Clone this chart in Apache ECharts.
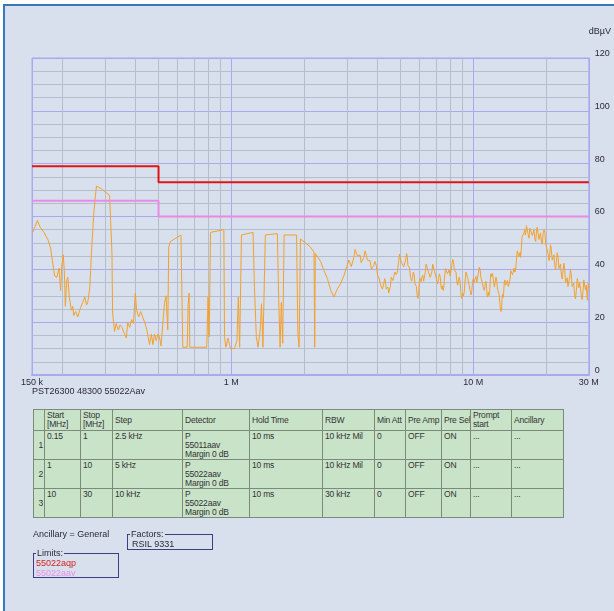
<!DOCTYPE html>
<html><head><meta charset="utf-8">
<script src="https://cdn.jsdelivr.net/npm/echarts@6/dist/echarts.min.js"></script>
<style>
html,body{margin:0;padding:0;background:#fff;}
#page{position:absolute;left:0;top:0;width:614px;height:611px;background:#fff;overflow:hidden;font-family:"Liberation Sans",Arial,sans-serif;color:#2a2a3a;}
#frame{position:absolute;left:3px;top:4px;width:611px;height:607px;background:#d7e0ec;border-left:2px solid #3579b9;border-top:2px solid #3579b9;box-sizing:border-box;}
#chart{position:absolute;left:0;top:0;width:614px;height:611px;}
#caption{position:absolute;left:32px;top:386px;font-size:9px;}
#tbl{position:absolute;left:33px;top:409px;border-collapse:collapse;table-layout:fixed;background:#c9e3c9;font-size:8.5px;letter-spacing:-0.2px;color:#333;border-top:1px solid #333;border-left:1px solid #333;border-right:1px solid #555;border-bottom:1px solid #555;}
#tbl td{border:1px solid #7c8a7c;padding:1px 1px 0 2px;vertical-align:top;line-height:9px;overflow:hidden;white-space:nowrap;}
#tbl tr.h td{vertical-align:middle;height:20px;padding-top:0;}
#tbl tr.r td{height:27px;}
#tbl td.n{text-align:right;vertical-align:middle;padding:0 1px;}
.box{position:absolute;border:1px solid #3a3f86;font-size:9px;}
.box .lg{position:absolute;left:2px;top:-6px;background:#d7e0ec;padding:0 1px;line-height:10px;}
</style></head>
<body><div id="page"><div id="frame"></div><div id="chart"></div>
<div id="caption"></div>
<table id="tbl"></table>
<div id="anc" style="position:absolute;left:33px;top:529px;font-size:9px;"></div>
<div class="box" id="factors" style="left:127px;top:534px;width:84px;height:14px;"><span class="lg">Factors:</span><div id="facText" style="position:absolute;left:4px;top:4px;"></div></div>
<div class="box" id="limits" style="left:33px;top:553px;width:84px;height:23px;"><span class="lg">Limits:</span><div id="limText" style="position:absolute;left:2px;top:4px;line-height:10px;"></div></div>
</div>
<script>
// ---------- data: [frequency MHz, level dBµV] ----------
const traceLowBand = [
[0.151,54],[0.158,58.5],[0.162,56],[0.168,54],[0.171,53.5],[0.175,51],[0.179,48],[0.182,43.5],[0.186,37.5],[0.190,37],
[0.194,40.5],[0.197,32],[0.199,41],[0.202,45.5],[0.204,39.5],[0.206,26],[0.209,36],[0.211,37],[0.214,29.5],[0.218,24.5],
[0.221,26],[0.223,22.5],[0.227,24],[0.232,22],[0.236,24.5],[0.243,27.5],[0.248,29.5],[0.252,26.5],[0.255,27.5],[0.260,33],
[0.264,46],[0.270,61],[0.274,67.5],[0.277,71.5],[0.290,70.5],[0.304,69],[0.314,68],[0.317,58.5],[0.321,46],[0.323,23.5],
[0.329,16.5],[0.334,19.5],[0.341,17],[0.347,19],[0.353,18],[0.362,15.5],[0.368,14],[0.373,20],[0.380,18],[0.387,21],
[0.394,19.5],[0.401,31],[0.406,24.5],[0.414,22],[0.422,24],[0.430,23.5],[0.438,20],[0.445,18],[0.452,15],[0.459,11.5],
[0.467,15.5],[0.474,11.5],[0.481,15.5],[0.489,13],[0.497,15.5],[0.504,14.5],[0.512,11],[0.520,11],[0.529,27],[0.537,30],
[0.546,17],[0.551,48.5],[0.560,50.5],[0.582,51.5],[0.619,53],[0.624,33],[0.630,10.5],[0.657,10.5],[0.663,27],[0.669,31],
[0.673,10.5],[0.791,10.5],[0.801,29.5],[0.810,14.5],[0.820,54],[0.825,54.5],[0.931,55],[0.937,14.5],[0.949,10.5],[0.968,14],
[0.991,10],[1.029,10],[1.055,13],[1.068,29.5],[1.082,10.5],[1.101,53],[1.111,53.5],[1.229,54],[1.246,33],[1.268,14.5],
[1.288,10.5],[1.316,17],[1.332,27],[1.350,10.5],[1.382,53],[1.404,53.5],[1.549,53.5],[1.569,28.5],[1.590,10.5],[1.608,27.5],
[1.630,12],[1.652,53],[1.668,53],[1.860,53],[1.883,15.5],[1.906,10.5],[1.930,51.5],[1.960,51],[2.118,48.5],[2.196,46.5],
[2.210,10.5],[2.222,46],[2.337,43],[2.414,39.5],[2.494,36.5],[2.575,32],[2.654,29.5],[2.738,32.5],[2.823,34.5],[2.917,37.5]
];
const traceHighBand = [
[3.059,43.5],[3.095,43.8],[3.13,41],[3.17,41.3],[3.207,44.5],[3.245,47.5],[3.28,47.5],[3.32,45],[3.363,45.5],[3.40,45.5],
[3.44,42.5],[3.48,42],[3.526,44.5],[3.57,47],[3.61,46.5],[3.65,43.5],[3.697,43.5],[3.74,43.3],[3.79,40],[3.83,39.3],
[3.877,41.5],[3.92,43],[3.97,41.5],[4.02,37.8],[4.064,37],[4.11,36.8],[4.16,33.5],[4.21,32.5],[4.262,34.5],[4.30,36.5],
[4.33,35.5],[4.365,32.5],[4.40,32.5],[4.435,33.3],[4.47,31],[4.505,30.8],[4.54,33.5],[4.575,37],[4.61,37.5],[4.65,35.8],
[4.685,37],[4.74,39],[4.80,38],[4.855,39],[4.913,43],[4.95,45.8],[4.99,45.5],[5.03,42.8],[5.07,43],[5.115,43.5],
[5.16,41],[5.21,41],[5.26,44],[5.295,46],[5.33,45],[5.365,41.5],[5.40,41],[5.45,40.5],[5.50,37],[5.555,35.5],
[5.61,37],[5.65,39],[5.69,38],[5.735,34.5],[5.78,34],[5.82,33.5],[5.86,30],[5.90,29],[5.94,31],[5.985,35.3],
[6.03,36.5],[6.08,35.3],[6.13,37],[6.18,37.8],[6.23,35.5],[6.28,35.8],[6.33,39],[6.38,42],[6.43,42],[6.48,39.8],
[6.53,40.5],[6.58,40.3],[6.63,37],[6.685,36.5],[6.74,39],[6.795,42],[6.85,42],[6.905,39.3],[6.96,39.5],[7.015,39],
[7.07,35.5],[7.125,34.5],[7.18,36.5],[7.24,38.3],[7.30,37],[7.355,33.3],[7.41,32.5],[7.455,33.8],[7.50,32],[7.55,33],
[7.60,37],[7.675,40.3],[7.75,40.5],[7.82,38.3],[7.89,39],[7.955,39.8],[8.02,37.5],[8.085,38],[8.15,41.5],[8.215,43.8],
[8.28,43],[8.345,39.8],[8.41,39.5],[8.48,38.8],[8.55,35],[8.615,34],[8.68,36],[8.75,37],[8.82,35],[8.89,30.5],
[8.96,29],[9.03,31],[9.10,30],[9.175,31.5],[9.25,36],[9.325,39],[9.40,39],[9.47,36.8],[9.54,37.5],[9.62,36.3],
[9.70,32],[9.775,30.3],[9.85,31.5],[9.925,35.5],[10.0,36.5],[10.085,35],[10.17,36.5],[10.25,37.3],[10.33,35],[10.41,35.3],
[10.49,38.5],[10.575,40.8],[10.66,40],[10.745,37],[10.83,37],[10.915,36.5],[11.0,33],[11.09,32],[11.18,34],[11.25,35.5],
[11.32,34],[11.39,30.3],[11.46,29.5],[11.53,31.3],[11.6,30],[11.665,30.8],[11.73,34.5],[11.795,38.3],[11.86,39],[11.925,37.3],
[11.99,38.5],[12.07,38],[12.15,34.5],[12.225,33.3],[12.30,35],[12.395,37],[12.49,36],[12.585,32.5],[12.68,32],[12.79,30.5],
[12.9,26],[12.995,24],[13.09,25],[13.145,29.3],[13.2,30.5],[13.27,29.3],[13.34,31],[13.42,35],[13.5,36],[13.61,34],
[13.72,35],[13.835,35.8],[13.95,33.5],[14.06,33.3],[14.17,36],[14.285,39.5],[14.4,40],[14.51,38],[14.62,39],[14.735,40.5],
[14.85,39],[14.965,40],[15.08,44],[15.19,47],[15.3,47],[15.43,44.8],[15.56,45.5],[15.62,46.5],[15.68,44.5],[15.74,45],
[15.80,48.5],[15.90,52.3],[16.0,53],[16.1,52],[16.21,54],[16.3,55],[16.4,53],[16.49,53.3],[16.58,56.5],[16.71,56],
[16.85,53],[16.98,51.8],[17.11,55.5],[17.25,55],[17.4,56],[17.53,52.8],[17.67,53.5],[17.8,55],[17.95,51.5],[18.1,50.5],
[18.24,54.5],[18.37,56],[18.5,55.5],[18.66,51.3],[18.83,52],[18.96,53.8],[19.1,50.5],[19.26,49.5],[19.43,53.5],[19.6,55],
[19.75,54],[19.9,49.8],[20.06,50.5],[20.23,50.5],[20.4,45.5],[20.55,43.3],[20.71,46],[20.85,49.3],[21.0,47.5],[21.18,43.5],
[21.36,44.5],[21.53,45.5],[21.7,41.5],[21.88,39.8],[22.05,43],[22.22,46.3],[22.4,44.5],[22.58,40.3],[22.76,41],[22.93,42],
[23.1,38],[23.3,36.3],[23.48,39.5],[23.66,42.3],[23.85,40],[24.05,35],[24.24,35],[24.42,36.8],[24.6,33.5],[24.8,32.8],
[25.02,37],[25.2,40],[25.4,38],[25.6,33.5],[25.81,34],[26.0,34.8],[26.2,30.5],[26.42,28.8],[26.65,32],[26.88,36.5],
[27.1,36],[27.3,33],[27.50,35],[27.7,35.3],[27.9,30.5],[28.14,28.5],[28.38,31.5],[28.6,36],[28.8,35.5],[29.05,32.3],
[29.29,34],[29.4,34.5],[29.5,30],[29.6,28.3],[29.7,31.5],[29.85,34.8],[30.0,33]
];
const qpLimitFreqMHz = [0.15, 0.5, 0.5, 30];
const qpLimitLevel = [79, 79, 73, 73];
const avLimitFreqMHz = [0.15, 0.5, 0.5, 30];
const avLimitLevel = [66, 66, 60, 60];
const minorGridFreqMHz = [0.2,0.3,0.4,0.5,0.6,0.7,0.8,0.9,2,3,4,5,6,7,8,9,20];
const yTicks = [0, 20, 40, 60, 80, 100, 120];
const yUnit = 'dBµV';
const captionText = 'PST26300 48300 55022Aav';
const tableHeader = ['', 'Start<br>[MHz]', 'Stop<br>[MHz]', 'Step', 'Detector', 'Hold Time', 'RBW', 'Min Att', 'Pre Amp', 'Pre Sel', 'Prompt<br>start', 'Ancillary'];
const tableRows = [
  ['1', '0.15', '1', '2.5 kHz', 'P<br>55011aav<br>Margin 0 dB', '10 ms', '10 kHz Mil', '0', 'OFF', 'ON', '...', '...'],
  ['2', '1', '10', '5 kHz', 'P<br>55022aav<br>Margin 0 dB', '10 ms', '10 kHz Mil', '0', 'OFF', 'ON', '...', '...'],
  ['3', '10', '30', '10 kHz', 'P<br>55022aav<br>Margin 0 dB', '10 ms', '30 kHz', '0', 'OFF', 'ON', '...', '...']
];
const ancillaryText = 'Ancillary = General';
const factorsText = 'RSIL 9331';
const limitNames = ['55022aqp', '55022aav'];

// ---------- layout / style ----------
const colWidths = [11,36,32,70,67,73,52,31,36,29,41,52];
const C = { trace:'#f3a02c', qp:'#e01515', av:'#e88ae6', major:'#a9a9ee', minor:'#b5bdc9', text:'#2a2a3a' };

document.getElementById('caption').textContent = captionText;
document.getElementById('anc').textContent = ancillaryText;
document.getElementById('facText').textContent = factorsText;
document.getElementById('limText').innerHTML =
  '<div style="color:#d42020">' + limitNames[0] + '</div><div style="color:#e890e6">' + limitNames[1] + '</div>';

const tbl = document.getElementById('tbl');
let html = '<colgroup>' + colWidths.map(w => '<col style="width:' + w + 'px">').join('') + '</colgroup>';
html += '<tr class="h">' + tableHeader.map(h => '<td>' + h + '</td>').join('') + '</tr>';
tableRows.forEach(r => {
  html += '<tr class="r">' + r.map((c, i) => '<td' + (i === 0 ? ' class="n"' : '') + '>' + c + '</td>').join('') + '</tr>';
});
tbl.innerHTML = html;
tbl.style.width = colWidths.reduce((a, b) => a + b, 0) + 'px';

const zip = (a, b) => a.map((v, i) => [v, b[i]]);

const chart = echarts.init(document.getElementById('chart'), null, { renderer: 'canvas' });
chart.setOption({
  animation: false,
  backgroundColor: 'transparent',
  textStyle: { fontFamily: 'Liberation Sans, Arial, sans-serif' },
  grid: { left: 32, right: 24, top: 58, bottom: 236, show: true, borderColor: C.major, borderWidth: 1, backgroundColor: 'transparent' },
  xAxis: {
    type: 'log', logBase: 10, min: 0.15, max: 30,
    axisLine: { show: true, lineStyle: { color: C.major, width: 2 } },
    axisTick: { show: false },
    splitLine: { show: true, lineStyle: { color: C.major, width: 1 } },
    axisLabel: {
      show: true, color: C.text, fontSize: 9, margin: 3,
      formatter: v => v < 0.9 ? Math.round(v * 1000) + ' k' : Math.round(v) + ' M'
    }
  },
  yAxis: {
    type: 'value', position: 'right', min: yTicks[0], max: yTicks[yTicks.length - 1], interval: 20,
    name: yUnit, nameLocation: 'end', nameGap: 22,
    nameTextStyle: { color: C.text, fontSize: 9, align: 'left', padding: [0, 0, 0, 0] },
    axisLine: { show: true, lineStyle: { color: C.major, width: 1 } },
    axisTick: { show: false },
    axisLabel: { color: C.text, fontSize: 9, margin: 6, verticalAlign: 'bottom', align: 'left' },
    splitLine: { show: true, lineStyle: { color: C.major, width: 1 } },
    minorTick: { show: false, splitNumber: 4 },
    minorSplitLine: { show: true, lineStyle: { color: C.minor, width: 1 } }
  },
  series: [
    {
      type: 'line', data: [], z: 1, silent: true,
      markLine: {
        z: 1, silent: true, symbol: ['none', 'none'], animation: false,
        label: { show: false },
        lineStyle: { color: C.minor, type: 'solid', width: 1 },
        data: minorGridFreqMHz.map(f => ({ xAxis: f }))
      }
    },
    { type: 'line', data: traceLowBand.concat(traceHighBand), showSymbol: false, z: 3, clip: true,
      lineStyle: { color: C.trace, width: 1 } },
    { type: 'line', data: zip(qpLimitFreqMHz, qpLimitLevel), showSymbol: false, z: 4,
      lineStyle: { color: C.qp, width: 2 } },
    { type: 'line', data: zip(avLimitFreqMHz, avLimitLevel), showSymbol: false, z: 4,
      lineStyle: { color: C.av, width: 2 } }
  ]
});
</script>
</body></html>
